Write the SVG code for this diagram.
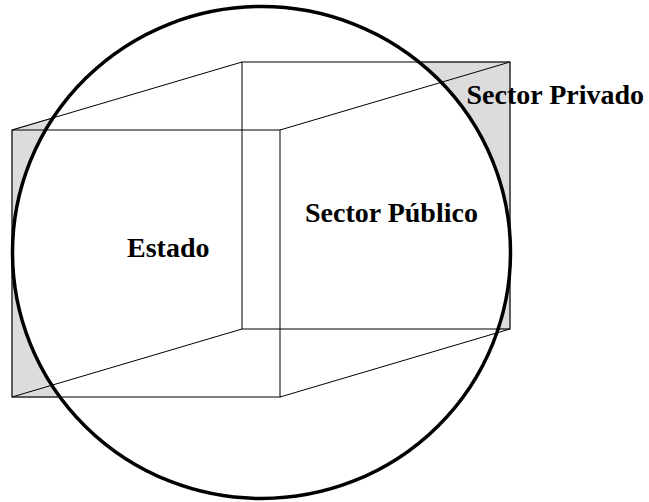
<svg xmlns="http://www.w3.org/2000/svg" width="649" height="502" viewBox="0 0 649 502">
<style>
.edge{fill:none;stroke:#000;stroke-width:1}
.lbl{font-family:"Liberation Serif","Times New Roman",serif;font-weight:bold;font-size:28px;fill:#000}
</style>
<rect width="649" height="502" fill="#fff"/>
<g id="sector-privado">
<polygon points="12,397 12,130 242,62 510,62 510,329 280,329 280,397" fill="#dcdcdc" stroke="#808080" stroke-width="1"/>
</g>
<g id="sector-publico">
<ellipse cx="261.5" cy="252.5" rx="249" ry="246" fill="#fff" stroke="none"/>
</g>
<g id="connectors">
<rect class="edge" x="242" y="62" width="268" height="267"/>
<rect class="edge" x="12" y="130" width="268" height="267"/>
<line class="edge" x1="12" y1="130" x2="242" y2="62"/>
<line class="edge" x1="280" y1="130" x2="510" y2="62"/>
<line class="edge" x1="12" y1="397" x2="242" y2="329"/>
<line class="edge" x1="280" y1="397" x2="510" y2="329"/>
</g>
<g id="circle">
<ellipse cx="261.5" cy="252.5" rx="249" ry="246" fill="none" stroke="#000" stroke-width="3.5"/>
</g>
<g id="estado">
<text class="lbl" x="127" y="257">Estado</text>
</g>
<g id="label-publico">
<text class="lbl" x="305" y="222">Sector Público</text>
</g>
<g id="label-privado">
<text class="lbl" x="466.5" y="104">Sector Privado</text>
</g>
</svg>
